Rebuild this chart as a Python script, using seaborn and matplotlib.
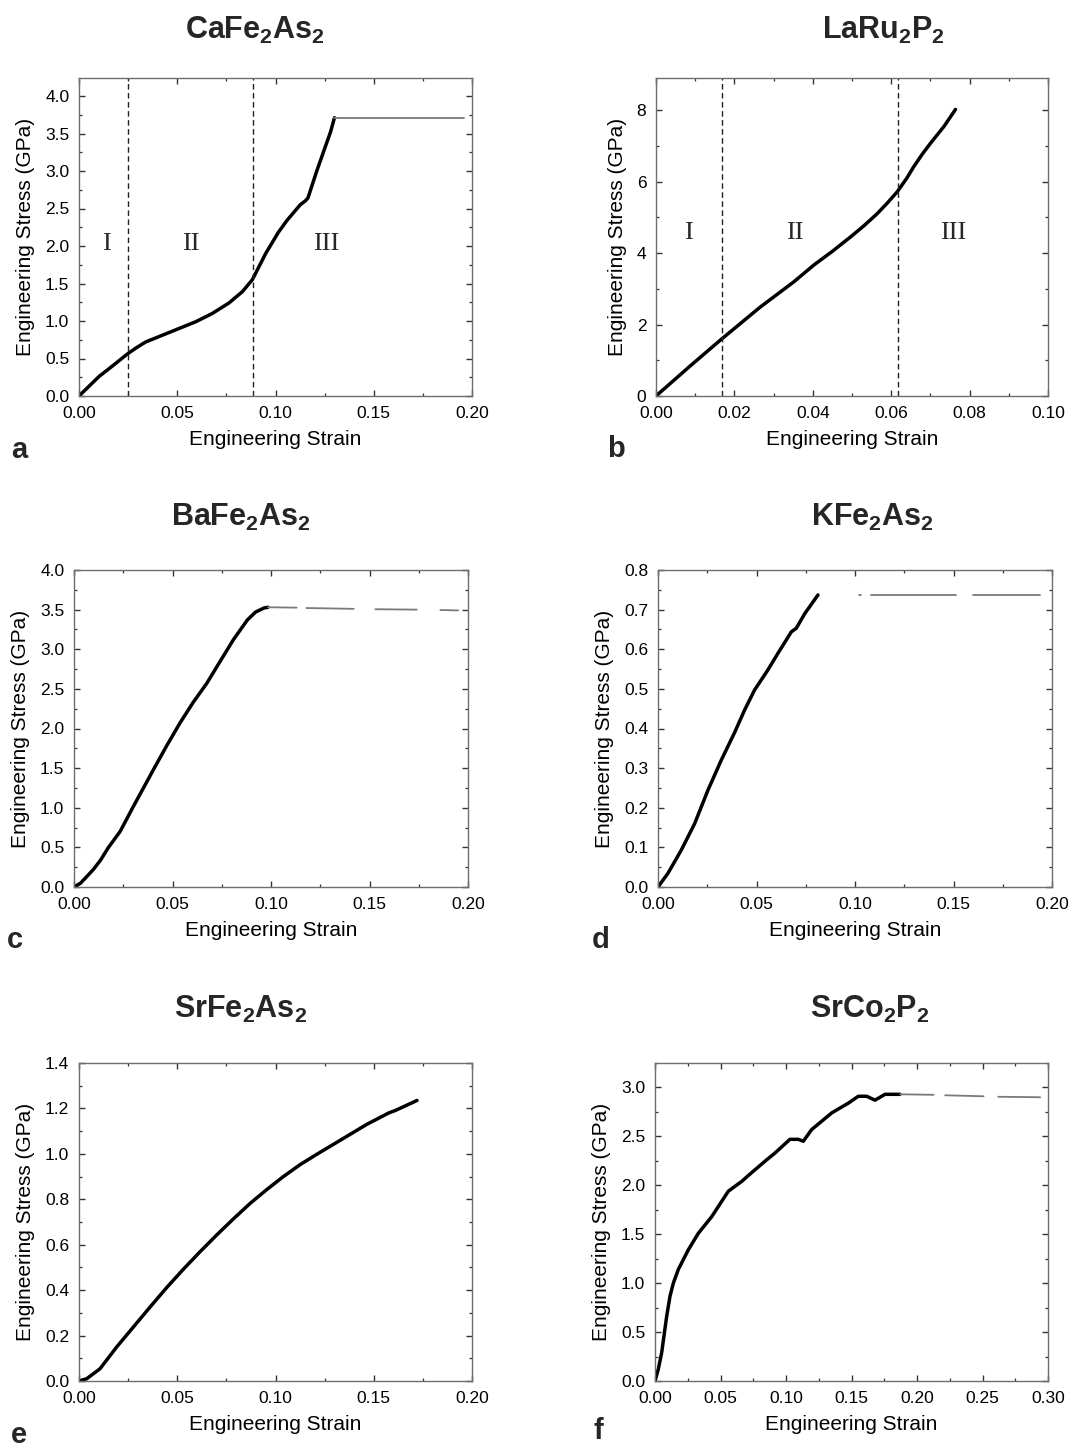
import numpy as np
import pandas as pd
import matplotlib
matplotlib.use("Agg")
import matplotlib.pyplot as plt
from matplotlib.ticker import MultipleLocator, FormatStrFormatter
import seaborn as sns

sns.set_theme(style="white")
plt.rcParams['font.family'] = ['Liberation Sans', 'DejaVu Sans']
plt.rcParams['mathtext.fontset'] = 'custom'
plt.rcParams['mathtext.rm'] = 'Liberation Sans'
plt.rcParams['mathtext.bf'] = 'Liberation Sans:bold'
plt.rcParams['mathtext.it'] = 'Liberation Sans:bold'

# ---------------- data ----------------
titles = [r"$\mathbf{CaFe_2As_2}$", r"$\mathbf{LaRu_2P_2}$", r"$\mathbf{BaFe_2As_2}$",
          r"$\mathbf{KFe_2As_2}$", r"$\mathbf{SrFe_2As_2}$", r"$\mathbf{SrCo_2P_2}$"]
letters = ["a", "b", "c", "d", "e", "f"]

# a: CaFe2As2
a_strain = [0.0, 0.0102, 0.0175, 0.0246, 0.0290, 0.0339, 0.0424, 0.0509, 0.0594, 0.0678,
            0.0763, 0.0831, 0.0882, 0.095, 0.1014, 0.1058, 0.1126, 0.1151, 0.1165, 0.121,
            0.1253, 0.1280, 0.1300]
a_stress = [0.0, 0.26, 0.41, 0.56, 0.64, 0.72, 0.81, 0.90, 0.99, 1.10,
            1.24, 1.39, 1.55, 1.90, 2.18, 2.34, 2.55, 2.60, 2.64, 3.00,
            3.32, 3.52, 3.71]
a_plateau_x = [[0.1300, 0.1958]]
a_plateau_y = [[3.71, 3.71]]
a_bounds = [0.0248, 0.0883]
a_regions = ["I", "II", "III"]
a_region_x = [0.014, 0.057, 0.126]
a_region_y = 2.03

# b: LaRu2P2
b_strain = [0.0, 0.0085, 0.0168, 0.0266, 0.0351, 0.0402, 0.0450, 0.0496, 0.0530, 0.0564,
            0.0590, 0.0615, 0.0640, 0.0657, 0.0680, 0.0700, 0.0735, 0.0764]
b_stress = [0.0, 0.82, 1.60, 2.49, 3.19, 3.66, 4.05, 4.45, 4.76, 5.10,
            5.40, 5.71, 6.10, 6.41, 6.78, 7.07, 7.55, 8.02]
b_bounds = [0.0168, 0.0617]
b_regions = ["I", "II", "III"]
b_region_x = [0.0082, 0.0354, 0.0758]
b_region_y = 4.55

# c: BaFe2As2
c_strain = [0.0, 0.0034, 0.0098, 0.0135, 0.0175, 0.0234, 0.0300, 0.0403, 0.0470, 0.0538,
            0.0605, 0.0674, 0.0740, 0.0809, 0.0880, 0.0922, 0.0964, 0.0985]
c_stress = [0.0, 0.05, 0.22, 0.34, 0.50, 0.70, 1.01, 1.48, 1.78, 2.07,
            2.33, 2.57, 2.84, 3.12, 3.37, 3.47, 3.52, 3.53]
c_plateau_x = [[0.0985, 0.113], [0.118, 0.142], [0.153, 0.174], [0.186, 0.195]]
c_plateau_y = [[3.53, 3.525], [3.52, 3.51], [3.505, 3.50], [3.495, 3.49]]

# d: KFe2As2
d_strain = [0.0, 0.0051, 0.0118, 0.0186, 0.0254, 0.0321, 0.0389, 0.0440, 0.0490, 0.0558,
            0.0609, 0.0677, 0.0702, 0.0745, 0.0812]
d_stress = [0.0, 0.035, 0.093, 0.16, 0.245, 0.32, 0.39, 0.447, 0.497, 0.548,
            0.59, 0.644, 0.653, 0.69, 0.737]
d_plateau_x = [[0.1022, 0.1030], [0.108, 0.1514], [0.1598, 0.1937]]
d_plateau_y = [[0.738, 0.738], [0.737, 0.737], [0.736, 0.736]]

# e: SrFe2As2
e_strain = [0.0, 0.0039, 0.0107, 0.0192, 0.0277, 0.0362, 0.0447, 0.0531, 0.0616, 0.0701,
            0.0786, 0.0871, 0.0956, 0.104, 0.1126, 0.121, 0.1295, 0.138, 0.1465, 0.1576,
            0.161, 0.172]
e_stress = [0.0, 0.01, 0.054, 0.15, 0.238, 0.326, 0.412, 0.492, 0.569, 0.643,
            0.714, 0.782, 0.843, 0.90, 0.953, 0.998, 1.042, 1.086, 1.130, 1.180,
            1.191, 1.235]

# f: SrCo2P2
f_strain = [0.0, 0.0025, 0.0051, 0.0089, 0.0115, 0.0140, 0.0178, 0.0254, 0.0331, 0.0433,
            0.0560, 0.0662, 0.0738, 0.0852, 0.0916, 0.1030, 0.1094, 0.1132, 0.1196, 0.1349,
            0.1476, 0.1552, 0.1616, 0.1679, 0.1756, 0.1870]
f_stress = [0.0, 0.12, 0.29, 0.66, 0.87, 1.00, 1.14, 1.34, 1.51, 1.68,
            1.94, 2.04, 2.13, 2.26, 2.33, 2.47, 2.47, 2.45, 2.57, 2.74,
            2.84, 2.91, 2.91, 2.87, 2.93, 2.93]
f_plateau_x = [[0.187, 0.2126], [0.2215, 0.2508], [0.262, 0.294]]
f_plateau_y = [[2.93, 2.925], [2.92, 2.91], [2.905, 2.90]]

# ---------------- layout ----------------
W, H = 1071, 1450
fig = plt.figure(figsize=(W / 100, H / 100), dpi=100)

def px_axes(l, t, r, b):
    return fig.add_axes([l / W, 1 - b / H, (r - l) / W, (b - t) / H])

axes = [px_axes(79, 78, 472, 396), px_axes(656, 78, 1048, 396),
        px_axes(74, 570, 468, 887), px_axes(658, 570, 1052, 887),
        px_axes(79, 1063, 472, 1381), px_axes(655, 1063, 1048, 1381)]

curves = [(a_strain, a_stress), (b_strain, b_stress), (c_strain, c_stress),
          (d_strain, d_stress), (e_strain, e_stress), (f_strain, f_stress)]
plateaus = [(a_plateau_x, a_plateau_y), None, (c_plateau_x, c_plateau_y),
            (d_plateau_x, d_plateau_y), None, (f_plateau_x, f_plateau_y)]
xlims = [(0, 0.20), (0, 0.10), (0, 0.20), (0, 0.20), (0, 0.20), (0, 0.30)]
ylims = [(0, 4.24), (0, 8.9), (0, 4.0), (0, 0.8), (0, 1.4), (0, 3.25)]
xmaj = [0.05, 0.02, 0.05, 0.05, 0.05, 0.05]
ymaj = [0.5, 2, 0.5, 0.1, 0.2, 0.5]
xfmt = ["%.2f"] * 6
yfmt = ["%.1f", "%d", "%.1f", "%.1f", "%.1f", "%.1f"]

for i, ax in enumerate(axes):
    xs, ys = curves[i]
    df = pd.DataFrame({"strain": xs, "stress": ys})
    sns.lineplot(data=df, x="strain", y="stress", ax=ax, color="black", lw=2.5, sort=False)
    if plateaus[i] is not None:
        px, py = plateaus[i]
        for sx, sy in zip(px, py):
            sdf = pd.DataFrame({"strain": sx, "stress": sy})
            sns.lineplot(data=sdf, x="strain", y="stress", ax=ax, color="#7a7a7a", lw=1.3, sort=False)
    ax.set_xlim(*xlims[i])
    ax.set_ylim(*ylims[i])
    ax.xaxis.set_major_locator(MultipleLocator(xmaj[i]))
    ax.xaxis.set_minor_locator(MultipleLocator(xmaj[i] / 2))
    ax.yaxis.set_major_locator(MultipleLocator(ymaj[i]))
    ax.yaxis.set_minor_locator(MultipleLocator(ymaj[i] / 2))
    ax.xaxis.set_major_formatter(FormatStrFormatter(xfmt[i]))
    ax.yaxis.set_major_formatter(FormatStrFormatter(yfmt[i]))
    ax.tick_params(which="both", direction="in", top=True, right=True, bottom=True, left=True,
                   color="#333333", labelsize=12.5, labelcolor="black", pad=7)
    ax.tick_params(which="major", length=4.5, width=1.0)
    ax.tick_params(which="minor", length=2.5, width=0.9)
    for sp in ax.spines.values():
        sp.set_color("#6e6e6e")
        sp.set_linewidth(1.0)
    ax.set_xlabel("Engineering Strain", fontsize=15, labelpad=7, color="black")
    ax.set_ylabel("Engineering Stress (GPa)", fontsize=15, labelpad=7, color="black")

# region boundaries and labels
for ax, bounds, labs, lx, ly in [(axes[0], a_bounds, a_regions, a_region_x, a_region_y),
                                 (axes[1], b_bounds, b_regions, b_region_x, b_region_y)]:
    for bx in bounds:
        ax.axvline(bx, color="#222222", lw=1.0, ls=(0, (4, 2.5)))
    for lab, x in zip(labs, lx):
        ax.text(x, ly, lab, family="Liberation Serif", fontsize=19, ha="center", va="center")

# titles
title_pos = [(255, 39), (883, 39), (241, 526), (872, 526), (241, 1018), (870, 1018)]
for t, (x, y) in zip(titles, title_pos):
    fig.text(x / W, 1 - y / H, t, fontsize=22, ha="center", va="baseline")

# panel letters
letter_pos = [(11, 458), (607, 457), (7, 948), (592, 948), (11, 1443), (593, 1439)]
for l, (x, y) in zip(letters, letter_pos):
    fig.text(x / W, 1 - y / H, l, fontsize=21, fontweight="bold", ha="left", va="baseline")

fig.savefig("out.png", dpi=100, facecolor="white")
